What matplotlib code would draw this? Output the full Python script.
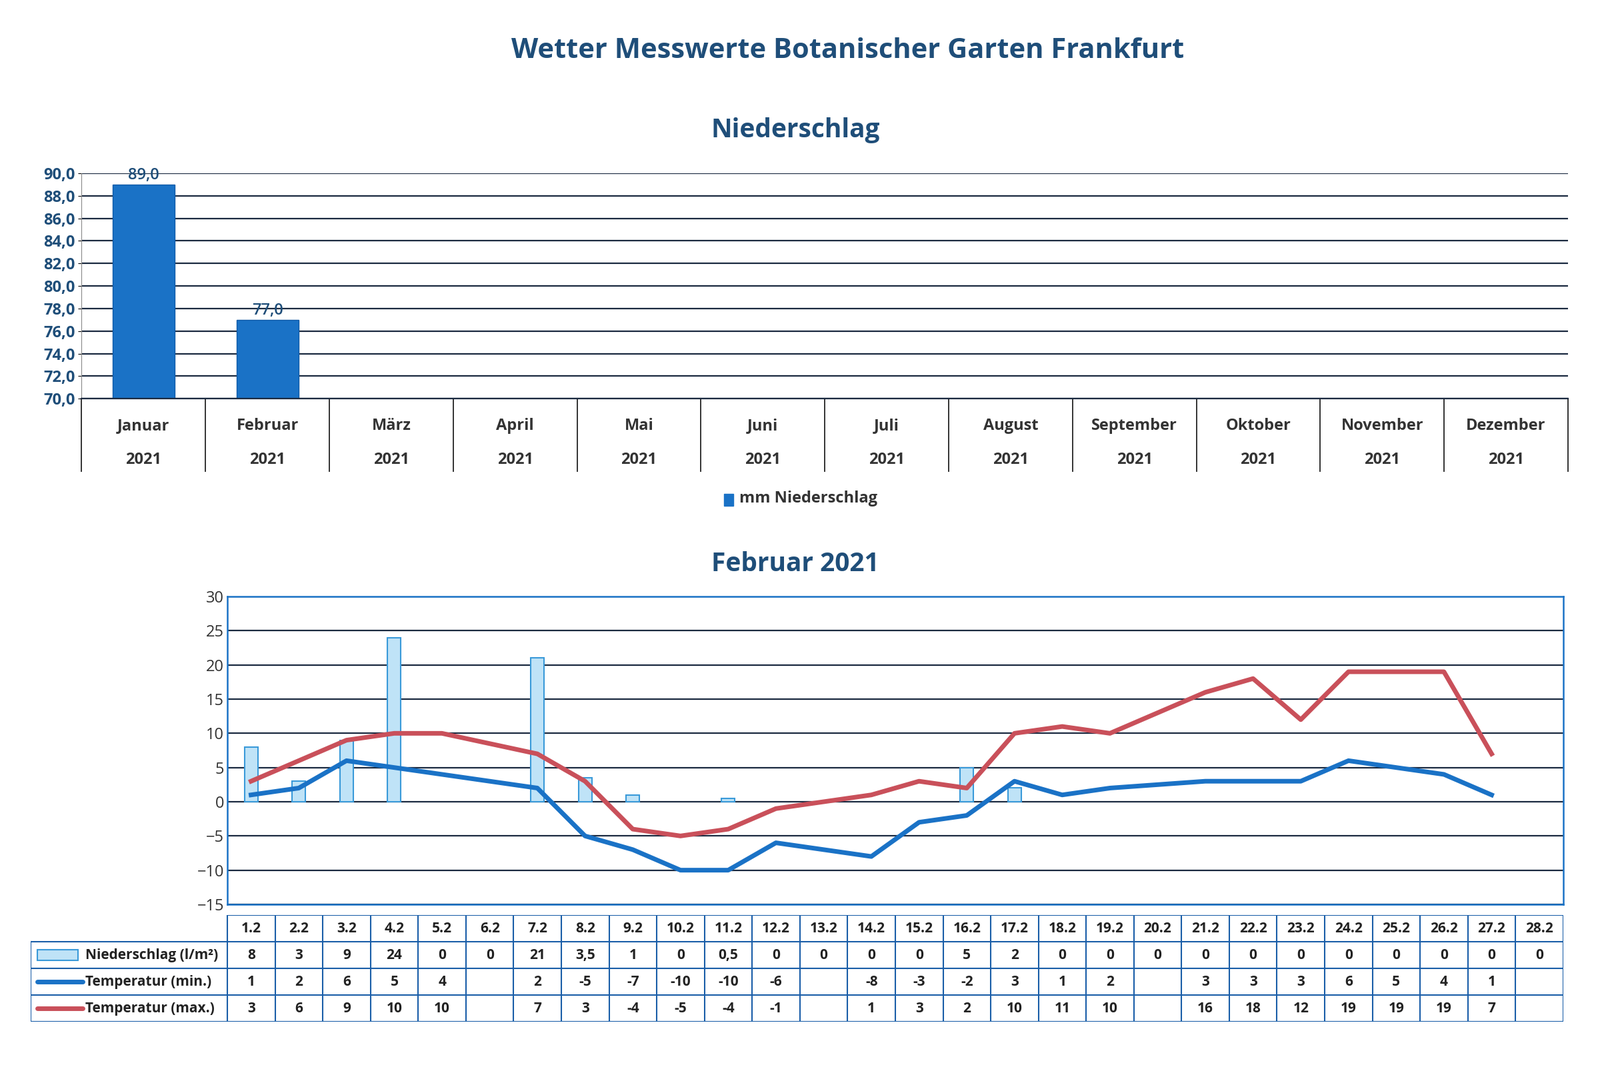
import numpy as np
import matplotlib.pyplot as plt
from matplotlib.patches import Rectangle

plt.rcParams["font.family"] = "Open Sans"

# Daten
monate = ["Januar", "Februar", "März", "April", "Mai", "Juni", "Juli", "August",
          "September", "Oktober", "November", "Dezember"]
niederschlag_monat = [89.0, 77.0]

tage = [f"{d}.2" for d in range(1, 29)]
niederschlag_tag = [8, 3, 9, 24, 0, 0, 21, 3.5, 1, 0, 0.5, 0, 0, 0, 0, 5, 2, 0, 0, 0,
                    0, 0, 0, 0, 0, 0, 0, 0]
temp_min = [1, 2, 6, 5, 4, None, 2, -5, -7, -10, -10, -6, None, -8, -3, -2, 3, 1, 2, None,
            3, 3, 3, 6, 5, 4, 1, None]
temp_max = [3, 6, 9, 10, 10, None, 7, 3, -4, -5, -4, -1, None, 1, 3, 2, 10, 11, 10, None,
            16, 18, 12, 19, 19, 19, 7, None]

NAVY = "#1f4e79"
BLAU = "#1a72c6"
ROT = "#c9505a"
HELLBLAU = "#bfe3f7"


def fmt(v):
    if v is None:
        return ""
    if float(v).is_integer():
        return str(int(v))
    return str(v).replace(".", ",")


fig = plt.figure(figsize=(24, 16.04), dpi=100)
fig.text(0.53, 0.952, "Wetter Messwerte Botanischer Garten Frankfurt", ha="center",
         va="center", fontsize=30, fontweight="bold", color=NAVY)

# ---- Niederschlag pro Monat ----
ax1 = fig.add_axes([0.051, 0.627, 0.929, 0.211])
fig.text(0.497, 0.878, "Niederschlag", ha="center", va="center", fontsize=28,
         fontweight="bold", color=NAVY)
x1 = np.arange(len(niederschlag_monat))
ax1.bar(x1, np.array(niederschlag_monat) - 70, bottom=70, width=0.5, color=BLAU,
        edgecolor="#0f5aa8")
for xi, v in zip(x1, niederschlag_monat):
    ax1.text(xi, v + 0.1, f"{v:.1f}".replace(".", ","), ha="center", va="bottom",
             fontsize=17, fontweight="semibold", color=NAVY)
ax1.set_xlim(-0.5, 11.5)
ax1.set_ylim(70, 90)
ax1.set_yticks(np.arange(70, 91, 2))
ax1.set_yticklabels([f"{v:.1f}".replace(".", ",") for v in np.arange(70, 91, 2)],
                    fontsize=17, fontweight="bold", color=NAVY)
ax1.set_xticks([])
ax1.yaxis.grid(True, color="#1b2a40", lw=1.6)
ax1.set_axisbelow(True)
for s in ["top", "right"]:
    ax1.spines[s].set_visible(False)
ax1.spines["left"].set_color("#888888")
ax1.spines["bottom"].set_color("#1b2a40")
ax1.spines["bottom"].set_linewidth(1.6)
for i in range(13):
    ax1.plot([i - 0.5, i - 0.5], [70, 63.6], color="#333333", lw=1.4, clip_on=False)
for i, m in enumerate(monate):
    ax1.text(i, 67.6, m, ha="center", va="center", fontsize=17, fontweight="bold",
             color="#333333", clip_on=False)
    ax1.text(i, 64.6, "2021", ha="center", va="center", fontsize=17, fontweight="bold",
             color="#333333", clip_on=False)
fig.patches.append(Rectangle((0.4525, 0.527), 0.006, 0.011, transform=fig.transFigure,
                             color=BLAU))
fig.text(0.462, 0.5335, "mm Niederschlag", ha="left", va="center", fontsize=17,
         fontweight="bold", color="#333333")

# ---- Februar 2021 ----
ax2 = fig.add_axes([0.142, 0.154, 0.835, 0.288])
fig.text(0.497, 0.472, "Februar 2021", ha="center", va="center", fontsize=28,
         fontweight="bold", color=NAVY)
x2 = np.arange(len(tage))
bx = [i for i, v in enumerate(niederschlag_tag) if v > 0]
bv = [v for v in niederschlag_tag if v > 0]
ax2.bar(bx, bv, width=0.28, color=HELLBLAU, edgecolor="#3a9ad9", lw=1.5, zorder=2)
for werte, farbe in [(temp_min, BLAU), (temp_max, ROT)]:
    xs = [i for i, v in enumerate(werte) if v is not None]
    ys = [v for v in werte if v is not None]
    ax2.plot(xs, ys, color=farbe, lw=5, zorder=3, solid_joinstyle="round")
ax2.set_xlim(-0.5, 27.5)
ax2.set_ylim(-15, 30)
ax2.set_yticks(range(-15, 31, 5))
ax2.tick_params(axis="y", labelsize=17, labelcolor="#333333", length=0)
ax2.set_xticks([])
ax2.yaxis.grid(True, color="#1b2a40", lw=1.6)
ax2.set_axisbelow(True)
for s in ax2.spines.values():
    s.set_color(BLAU)
    s.set_linewidth(1.8)

# ---- Tabelle ----
axt = fig.add_axes([0.019, 0.044, 0.958, 0.100])
lw_col = 4.13
axt.set_xlim(-0.5 - lw_col, 27.5)
axt.set_ylim(0, 4)
axt.axis("off")
zeilen = [
    ("Niederschlag (l/m²)", [fmt(v) for v in niederschlag_tag], "bar"),
    ("Temperatur (min.)", [fmt(v) for v in temp_min], BLAU),
    ("Temperatur (max.)", [fmt(v) for v in temp_max], ROT),
]
lc = "#1a5ea8"
axt.plot([-0.5, 27.5], [4, 4], color=lc, lw=1.5)
for y in [0, 1, 2, 3]:
    axt.plot([-0.5 - lw_col, 27.5], [y, y], color=lc, lw=1.5)
for i in range(29):
    axt.plot([i - 0.5, i - 0.5], [0, 4], color=lc, lw=1.5)
axt.plot([-0.5 - lw_col] * 2, [0, 3], color=lc, lw=1.5)
for i, t in enumerate(tage):
    axt.text(i, 3.5, t, ha="center", va="center", fontsize=15, fontweight="bold",
             color="#222222")
for r, (name, werte, stil) in enumerate(zeilen):
    y = 2.5 - r
    x0 = -0.5 - lw_col + 0.15
    if stil == "bar":
        axt.add_patch(Rectangle((x0, y - 0.2), 0.85, 0.4, facecolor=HELLBLAU,
                                edgecolor="#3a9ad9", lw=1.5))
    else:
        axt.plot([x0, x0 + 0.95], [y, y], color=stil, lw=5, solid_capstyle="round")
    axt.text(x0 + 1.0, y, name, ha="left", va="center", fontsize=15, fontweight="bold",
             color="#222222")
    for i, w in enumerate(werte):
        axt.text(i, y, w, ha="center", va="center", fontsize=15, fontweight="bold",
                 color="#222222")

fig.savefig("out.png", dpi=100, facecolor="white")
